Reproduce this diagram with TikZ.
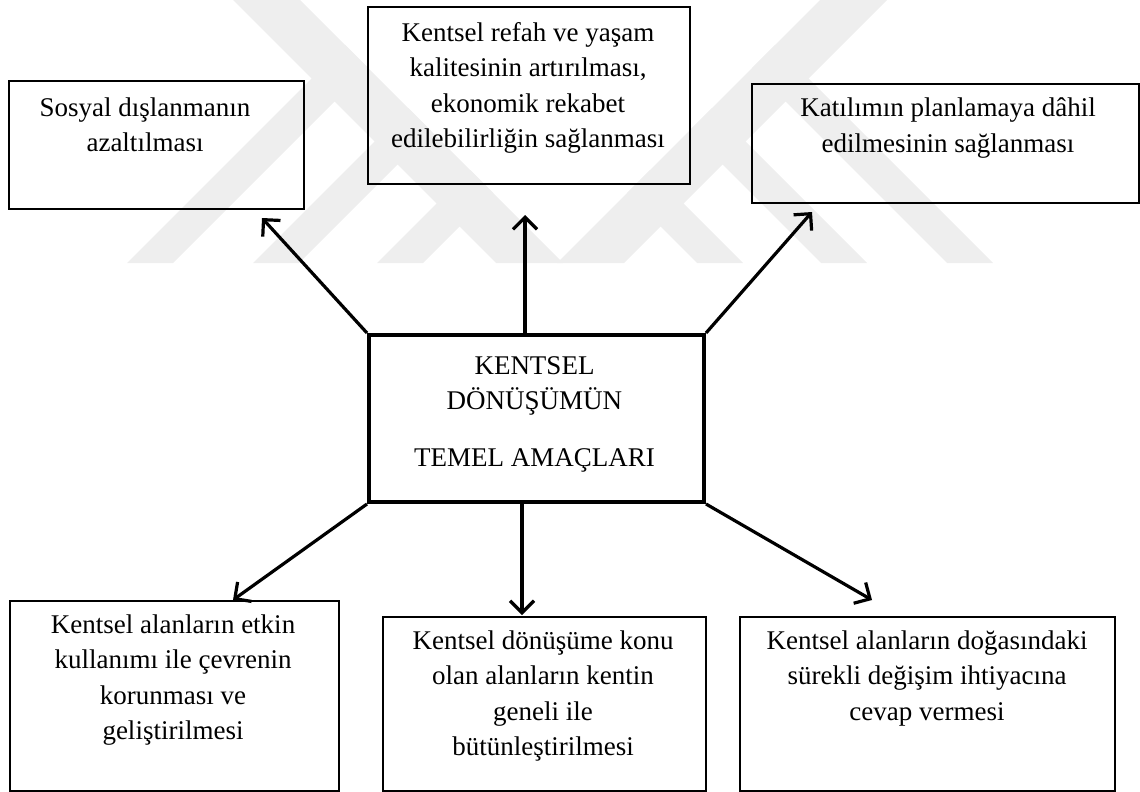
\documentclass[tikz,border=0pt]{standalone}
\usepackage{fontspec}
\setmainfont{Liberation Serif}
\usetikzlibrary{arrows.meta}
\definecolor{wm}{gray}{0.935}
\begin{document}
\begin{tikzpicture}[x=1pt,y=-1pt,
  box/.style={draw, line width=1.6pt, inner sep=0pt, anchor=north west},
  mainbox/.style={box, line width=4pt},
  txt/.style={font=\fontsize{27}{35.5}\selectfont, align=center, inner sep=0pt},
  arr/.style={line width=3.2pt, -{Straight Barb[length=12pt,width=24pt]}},
  band/.style={fill=wm, draw=none}]
\useasboundingbox (0,0) rectangle (1140,792);
% watermark
\fill[band] (233,0) -- (300,0) -- (563,263) -- (496,263) -- cycle;
\fill[band] (820,0) -- (887,0) -- (624,263) -- (557,263) -- cycle;
\fill[band] (127,263) -- (173,263) -- (368,68) -- (345,45) -- cycle;
\fill[band] (253,263) -- (299,263) -- (431,131) -- (408,108) -- cycle;
\fill[band] (377,263) -- (423,263) -- (493,193) -- (470,170) -- cycle;
\fill[band] (993,263) -- (947,263) -- (752,68) -- (775,45) -- cycle;
\fill[band] (867,263) -- (821,263) -- (689,131) -- (712,108) -- cycle;
\fill[band] (743,263) -- (697,263) -- (627,193) -- (650,170) -- cycle;
% boxes
\node[box, minimum width=295pt, minimum height=128pt] (s) at (8,80) {};
\node[box, minimum width=322pt, minimum height=177pt] (t) at (367,6) {};
\node[box, minimum width=387pt, minimum height=119pt] (k) at (751,83) {};
\node[mainbox, minimum width=335pt, minimum height=167pt] (c) at (367,333) {};
\node[box, minimum width=329pt, minimum height=190pt] (bl) at (9,600) {};
\node[box, minimum width=323pt, minimum height=174pt] (bm) at (382,616) {};
\node[box, minimum width=375pt, minimum height=174pt] (br) at (739,616) {};
% texts
\node[txt] (ts-t) at (145,125) {Sosyal dışlanmanın\\azaltılması};
\node[txt] (tt-t) at (528,88) {Kentsel refah ve yaşam\\kalitesinin artırılması,\\ekonomik rekabet\\edilebilirliğin sağlanması};
\node[txt] (tk-t) at (948,128) {Katılımın planlamaya dâhil\\edilmesinin sağlanması};
\node[txt] (c1) at (534.5,366) {KENTSEL};
\node[txt] (c2) at (534.5,401) {DÖNÜŞÜMÜN};
\node[txt] (c3) at (534.5,460) {TEMEL AMAÇLARI};
\node[txt] (tbl-t) at (173,680) {Kentsel alanların etkin\\kullanımı ile çevrenin\\korunması ve\\geliştirilmesi};
\node[txt] (tbm-t) at (543,696) {Kentsel dönüşüme konu\\olan alanların kentin\\geneli ile\\bütünleştirilmesi};
\node[txt] (tbr-t) at (927,678) {Kentsel alanların doğasındaki\\sürekli değişim ihtiyacına\\cevap vermesi};
% arrow ends
\coordinate (ct) at (525,333);
\coordinate (cb) at (522,500);
\coordinate (es) at (262,218);
\coordinate (et) at (525,215);
\coordinate (ek) at (812,212);
\coordinate (ebl) at (233,600);
\coordinate (ebm) at (522,615);
\coordinate (ebr) at (872,600);
% arrows
\draw[arr] (c.north west) -- (es);
\draw[arr] (ct) -- (et);
\draw[arr] (c.north east) -- (ek);
\draw[arr] (c.south west) -- (ebl);
\draw[arr] (cb) -- (ebm);
\draw[arr] (c.south east) -- (ebr);
\end{tikzpicture}
\end{document}
